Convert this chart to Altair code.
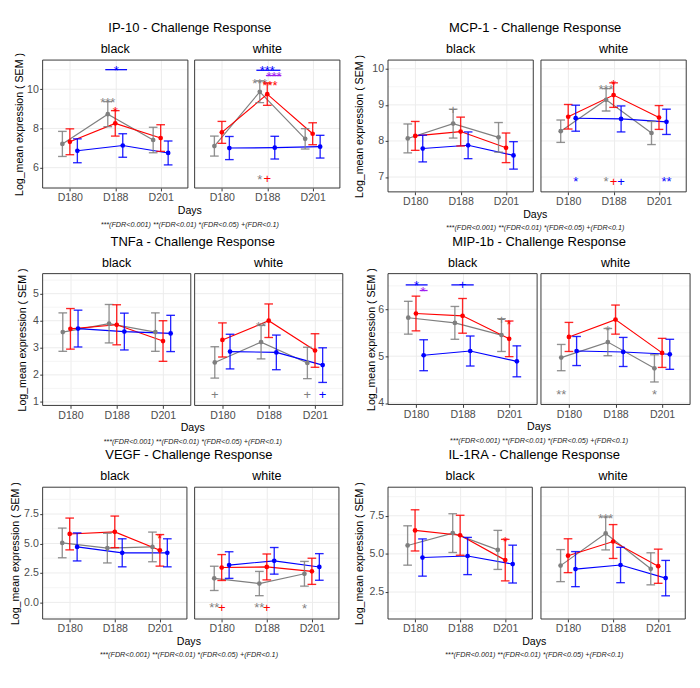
import altair as alt
import pandas as pd

# ---------------- data ----------------
DAYS = ["D180", "D188", "D201"]
FACETS = ["black", "white"]
GROUPS = ["gray", "red", "blue"]
TITLES = {
    "IP-10": "IP-10 - Challenge Response",
    "MCP-1": "MCP-1 - Challenge Response",
    "TNFa": "TNFa - Challenge Response",
    "MIP-1b": "MIP-1b - Challenge Response",
    "VEGF": "VEGF - Challenge Response",
    "IL-1RA": "IL-1RA - Challenge Response",
}
X_TITLE = "Days"
Y_TITLE = "Log_mean expression ( SEM )"
FOOTNOTE = "***(FDR<0.001) **(FDR<0.01) *(FDR<0.05) +(FDR<0.1)"

IP10_MEAN = {"black": {"gray": [7.21, 8.73, 7.41], "red": [7.32, 8.26, 7.51], "blue": [6.86, 7.13, 6.75]},
             "white": {"gray": [7.10, 9.87, 7.47], "red": [7.80, 9.75, 7.73], "blue": [7.00, 7.02, 7.07]}}
IP10_SEM = {"black": {"gray": [0.64, 0.64, 0.65], "red": [0.66, 0.65, 0.68], "blue": [0.61, 0.60, 0.61]},
            "white": {"gray": [0.51, 0.55, 0.52], "red": [0.56, 0.57, 0.56], "blue": [0.59, 0.58, 0.58]}}

MCP1_MEAN = {"black": {"gray": [8.07, 8.48, 8.10], "red": [8.14, 8.26, 7.81], "blue": [7.79, 7.88, 7.60]},
             "white": {"gray": [8.27, 9.14, 8.22], "red": [8.67, 9.27, 8.65], "blue": [8.63, 8.61, 8.53]}}
MCP1_SEM = {"black": {"gray": [0.40, 0.40, 0.41], "red": [0.40, 0.40, 0.41], "blue": [0.37, 0.37, 0.38]},
            "white": {"gray": [0.31, 0.31, 0.32], "red": [0.34, 0.34, 0.33], "blue": [0.36, 0.36, 0.35]}}

TNFA_MEAN = {"black": {"gray": [3.58, 3.89, 3.58], "red": [3.70, 3.85, 3.25], "blue": [3.71, 3.60, 3.53]},
             "white": {"gray": [2.46, 3.21, 2.44], "red": [3.29, 4.00, 2.90], "blue": [2.86, 2.83, 2.36]}}
TNFA_SEM = {"black": {"gray": [0.71, 0.71, 0.71], "red": [0.75, 0.74, 0.75], "blue": [0.68, 0.68, 0.67]},
            "white": {"gray": [0.58, 0.62, 0.58], "red": [0.63, 0.62, 0.62], "blue": [0.64, 0.64, 0.64]}}

MIP1B_MEAN = {"black": {"gray": [5.82, 5.71, 5.45], "red": [5.91, 5.86, 5.37], "blue": [5.02, 5.11, 4.89]},
              "white": {"gray": [4.97, 5.30, 4.74], "red": [5.41, 5.78, 5.07], "blue": [5.11, 5.09, 5.04]}}
MIP1B_SEM = {"black": {"gray": [0.35, 0.35, 0.35], "red": [0.37, 0.37, 0.38], "blue": [0.33, 0.32, 0.33]},
             "white": {"gray": [0.28, 0.29, 0.29], "red": [0.31, 0.31, 0.31], "blue": [0.31, 0.31, 0.32]}}

VEGF_MEAN = {"black": {"gray": [5.05, 4.61, 4.71], "red": [5.81, 5.99, 4.42], "blue": [4.71, 4.21, 4.21]},
             "white": {"gray": [2.04, 1.60, 2.43], "red": [2.96, 3.01, 2.64], "blue": [3.17, 3.53, 3.01]}}
VEGF_SEM = {"black": {"gray": [1.26, 1.26, 1.26], "red": [1.35, 1.34, 1.34], "blue": [1.19, 1.19, 1.19]},
            "white": {"gray": [1.03, 1.03, 1.05], "red": [1.10, 1.10, 1.11], "blue": [1.13, 1.13, 1.13]}}

IL1RA_MEAN = {"black": {"gray": [5.55, 6.36, 5.26], "red": [6.54, 6.22, 4.59], "blue": [4.76, 4.86, 4.33]},
              "white": {"gray": [4.23, 6.34, 4.02], "red": [4.88, 5.81, 4.19], "blue": [4.00, 4.27, 3.41]}}
IL1RA_SEM = {"black": {"gray": [1.29, 1.27, 1.28], "red": [1.35, 1.31, 1.36], "blue": [1.22, 1.22, 1.24]},
             "white": {"gray": [1.05, 1.08, 1.05], "red": [1.11, 1.11, 1.12], "blue": [1.15, 1.16, 1.16]}}

# significance marks: (facet, day, anchor series, nudge, y, text, colour)
IP10_SIG = [("black", "D188", "red", 0.02, 11.13, "*", "blue"),
            ("black", "D188", "gray", 0.0, 9.48, "***", "gray"),
            ("black", "D188", "red", 0.0, 9.01, "*", "red"),
            ("white", "D188", "red", 0.0, 11.10, "***", "blue"),
            ("white", "D188", "red", 0.15, 10.82, "***", "purple"),
            ("white", "D188", "gray", 0.0, 10.46, "***", "gray"),
            ("white", "D188", "red", 0.06, 10.37, "***", "red"),
            ("white", "D188", "gray", 0.0, 5.56, "*", "gray"),
            ("white", "D188", "red", 0.0, 5.45, "+", "red")]
IP10_BRACKETS = [("black", "D188", -0.22, 0.26, 11.0, "blue"),
                 ("white", "D188", -0.24, 0.29, 10.97, "blue"),
                 ("white", "D188", -0.03, 0.31, 10.70, "purple")]

MCP1_SIG = [("black", "D188", "gray", 0.0, 8.86, "+", "gray"),
            ("white", "D188", "red", 0.0, 9.66, "*", "red"),
            ("white", "D188", "gray", 0.0, 9.51, "***", "gray"),
            ("white", "D180", "blue", 0.0, 6.97, "*", "blue"),
            ("white", "D188", "gray", 0.0, 6.97, "*", "gray"),
            ("white", "D188", "red", 0.0, 6.89, "+", "red"),
            ("white", "D188", "blue", 0.0, 6.89, "+", "blue"),
            ("white", "D201", "blue", 0.0, 6.97, "**", "blue")]
MCP1_BRACKETS = []

TNFA_SIG = [("white", "D180", "gray", 0.0, 1.28, "+", "gray"),
            ("white", "D188", "gray", 0.0, 3.88, "**", "gray"),
            ("white", "D201", "gray", 0.0, 1.28, "+", "gray"),
            ("white", "D201", "blue", 0.0, 1.28, "+", "blue")]
TNFA_BRACKETS = []

MIP1B_SIG = [("black", "D180", "red", 0.01, 6.57, "*", "blue"),
             ("black", "D180", "red", 0.15, 6.45, "*", "purple"),
             ("black", "D188", "red", 0.0, 6.52, "+", "blue"),
             ("black", "D201", "gray", 0.0, 5.78, "+", "gray"),
             ("black", "D201", "red", 0.0, 5.74, "*", "red"),
             ("white", "D188", "gray", 0.0, 5.62, "*", "gray"),
             ("white", "D180", "gray", 0.0, 4.25, "**", "gray"),
             ("white", "D201", "gray", 0.0, 4.25, "*", "gray")]
MIP1B_BRACKETS = [("black", "D180", -0.22, 0.25, 6.52, "blue"),
                  ("black", "D180", 0.08, 0.25, 6.40, "purple"),
                  ("black", "D188", -0.24, 0.24, 6.52, "blue")]

VEGF_SIG = [("black", "D201", "red", 0.0, 5.71, "*", "red"),
            ("white", "D180", "gray", 0.0, -0.18, "**", "gray"),
            ("white", "D180", "red", 0.0, -0.45, "+", "red"),
            ("white", "D188", "gray", 0.0, -0.18, "**", "gray"),
            ("white", "D188", "red", 0.0, -0.45, "+", "red"),
            ("white", "D201", "gray", 0.0, -0.24, "*", "gray")]
VEGF_BRACKETS = []

IL1RA_SIG = [("black", "D201", "red", 0.0, 6.02, "*", "red"),
             ("white", "D188", "gray", 0.0, 7.50, "***", "gray")]
IL1RA_BRACKETS = []

# y-axis ticks per gene
IP10_TICKS, IP10_MINOR = [6, 8, 10], [5, 7, 9, 11]
MCP1_TICKS, MCP1_MINOR = [7, 8, 9, 10], [7.5, 8.5, 9.5]
TNFA_TICKS, TNFA_MINOR = [1, 2, 3, 4, 5], [1.5, 2.5, 3.5, 4.5, 5.5]
MIP1B_TICKS, MIP1B_MINOR = [4, 5, 6], [4.5, 5.5, 6.5]
VEGF_TICKS, VEGF_MINOR = [0.0, 2.5, 5.0, 7.5], [-1.25, 1.25, 3.75, 6.25, 8.75]
IL1RA_TICKS, IL1RA_MINOR = [2.5, 5.0, 7.5], [1.25, 3.75, 6.25, 8.75]

GENES = {
    "IP-10": dict(mean=IP10_MEAN, sem=IP10_SEM, sig=IP10_SIG, br=IP10_BRACKETS,
                  ticks=IP10_TICKS, minor=IP10_MINOR, domain=[4.96, 11.49], fmt="d"),
    "MCP-1": dict(mean=MCP1_MEAN, sem=MCP1_SEM, sig=MCP1_SIG, br=MCP1_BRACKETS,
                  ticks=MCP1_TICKS, minor=MCP1_MINOR, domain=[6.59, 10.24], fmt="d"),
    "TNFa": dict(mean=TNFA_MEAN, sem=TNFA_SEM, sig=TNFA_SIG, br=TNFA_BRACKETS,
                 ticks=TNFA_TICKS, minor=TNFA_MINOR, domain=[0.87, 5.74], fmt="d"),
    "MIP-1b": dict(mean=MIP1B_MEAN, sem=MIP1B_SEM, sig=MIP1B_SIG, br=MIP1B_BRACKETS,
                   ticks=MIP1B_TICKS, minor=MIP1B_MINOR, domain=[3.97, 6.76], fmt="d"),
    "VEGF": dict(mean=VEGF_MEAN, sem=VEGF_SEM, sig=VEGF_SIG, br=VEGF_BRACKETS,
                 ticks=VEGF_TICKS, minor=VEGF_MINOR, domain=[-1.41, 9.78], fmt=".1f"),
    "IL-1RA": dict(mean=IL1RA_MEAN, sem=IL1RA_SEM, sig=IL1RA_SIG, br=IL1RA_BRACKETS,
                   ticks=IL1RA_TICKS, minor=IL1RA_MINOR, domain=[0.73, 9.37], fmt=".1f"),
}

# ---------------- styling / layout ----------------
FONT = "Liberation Sans"
COLOR_KEYS = ["gray", "red", "blue", "purple"]
COLOR_VALUES = ["#7f7f7f", "#ff0000", "#0000ff", "#a020f0"]
DODGE = {"gray": -0.165, "red": 0.0, "blue": 0.165}
GAP = 4
LAYOUT = {
    "IP-10": dict(W=151, H=133, ytx=-23.5),
    "MCP-1": dict(W=151, H=137, ytx=-29),
    "TNFa": dict(W=154, H=137, ytx=-21),
    "MIP-1b": dict(W=155, H=136, ytx=-17),
    "VEGF": dict(W=150, H=137, ytx=-28),
    "IL-1RA": dict(W=150, H=137, ytx=-29),
}
ROWS = [("IP-10", "MCP-1", 3, 39), ("TNFa", "MIP-1b", 1, 27), ("VEGF", "IL-1RA", 12, 31)]

LABEL_EXPR = "[" + ",".join("'%s'" % d for d in DAYS) + "][datum.value - 1]"
cscale = alt.Scale(domain=COLOR_KEYS, range=COLOR_VALUES)


def series_df(g, facet):
    rows = []
    for grp in GROUPS:
        for i, d in enumerate(DAYS):
            m = g["mean"][facet][grp][i]
            s = g["sem"][facet][grp][i]
            rows.append(dict(grp=grp, day=d, x=i + 1 + DODGE[grp], mean=m, lo=m - s, hi=m + s))
    return pd.DataFrame(rows)


def text_layer(txt, px, py, size, style="normal", color="#000000"):
    return alt.Chart(pd.DataFrame({"t": [txt]})).mark_text(
        font=FONT, fontSize=size, fontStyle=style, color=color, align="center", baseline="middle"
    ).encode(text="t:N", x=alt.value(px), y=alt.value(py))


def panel(gene, facet):
    g = GENES[gene]
    L = LAYOUT[gene]
    W, H = L["W"], L["H"]
    left = facet == "black"
    xs = alt.Scale(domain=[0.4, 3.6], nice=False, zero=False)
    ys = alt.Scale(domain=g["domain"], nice=False, zero=False)
    xax = alt.Axis(values=[1, 2, 3], labelExpr=LABEL_EXPR, title=None, grid=True,
                   gridColor="#ebebeb", gridWidth=1, labelFlush=False, labelOverlap=False)
    if left:
        yax = alt.Axis(values=g["ticks"], format=g["fmt"], title=Y_TITLE, grid=False,
                       titleX=L["ytx"], titleY=H / 2, titleAngle=270, titleBaseline="middle",
                       titleAlign="center", labelOverlap=False)
    else:
        yax = None

    def X(f):
        return alt.X(f, type="quantitative", scale=xs, axis=xax)

    def Y(f):
        return alt.Y(f, type="quantitative", scale=ys, axis=yax)

    color = alt.Color("grp:N", scale=cscale, legend=None)
    d = series_df(g, facet)

    layers = []
    layers.append(alt.Chart(pd.DataFrame({"v": g["minor"]})).mark_rule(
        color="#f2f2f2", strokeWidth=0.8).encode(y=Y("v")))
    layers.append(alt.Chart(pd.DataFrame({"v": g["ticks"]})).mark_rule(
        color="#ebebeb", strokeWidth=1).encode(y=Y("v")))
    layers.append(alt.Chart(d).mark_line(strokeWidth=1.2).encode(x=X("x"), y=Y("mean"), color=color))
    layers.append(alt.Chart(d).mark_rule(strokeWidth=1.4, opacity=0.85).encode(
        x=X("x"), y=Y("lo"), y2="hi", color=color))
    layers.append(alt.Chart(d).mark_tick(orient="horizontal", size=9, thickness=1.4, opacity=0.85).encode(
        x=X("x"), y=Y("lo"), color=color))
    layers.append(alt.Chart(d).mark_tick(orient="horizontal", size=9, thickness=1.4, opacity=0.85).encode(
        x=X("x"), y=Y("hi"), color=color))
    layers.append(alt.Chart(d).mark_point(filled=True, size=24, opacity=1).encode(
        x=X("x"), y=Y("mean"), color=color))

    br = [b for b in g["br"] if b[0] == facet]
    if br:
        bdf = pd.DataFrame([dict(x0=DAYS.index(b[1]) + 1 + b[2], x1=DAYS.index(b[1]) + 1 + b[3],
                                 y=b[4], grp=b[5]) for b in br])
        layers.append(alt.Chart(bdf).mark_rule(strokeWidth=1.3).encode(
            x=X("x0"), x2=alt.X2("x1"), y=Y("y"), color=color))

    sig = [s for s in g["sig"] if s[0] == facet]
    if sig:
        sdf = pd.DataFrame([dict(x=DAYS.index(s[1]) + 1 + DODGE[s[2]] + s[3], y=s[4], text=s[5], grp=s[6])
                            for s in sig])
        plus = sdf[sdf["text"].str.contains("+", regex=False)]
        star = sdf[~sdf["text"].str.contains("+", regex=False)]
        if len(star):
            layers.append(alt.Chart(star).mark_text(font=FONT, fontSize=13.5, dy=3.8, baseline="middle").encode(
                x=X("x"), y=Y("y"), text="text:N", color=color))
        if len(plus):
            layers.append(alt.Chart(plus).mark_text(font=FONT, fontSize=13.5, dy=0.7, baseline="middle").encode(
                x=X("x"), y=Y("y"), text="text:N", color=color))

    # facet strip label
    layers.append(text_layer(facet, W / 2, -11, 13))
    if left:
        cx = (2 * W + GAP) / 2
        layers.append(text_layer(TITLES[gene], cx, -33, 13.5))
        layers.append(text_layer(X_TITLE, cx, H + 24, 11))
        layers.append(text_layer(FOOTNOTE, cx, H + 38, 7.5, style="italic", color="#222222"))

    layers.append(alt.Chart(pd.DataFrame({"v": [0]})).mark_rect(
        fillOpacity=0, stroke="#333333", strokeWidth=1).encode(
        x=alt.value(0), x2=alt.value(W), y=alt.value(0), y2=alt.value(H)))

    return alt.layer(*layers).properties(width=W, height=H)


def spacer(w):
    return alt.Chart(pd.DataFrame({"v": [0]})).mark_point(opacity=0).encode(
        x=alt.value(0), y=alt.value(0)).properties(width=w, height=1)


items = []
for gl, gr, s0, mid in ROWS:
    items += [spacer(s0), panel(gl, "black"), panel(gl, "white"),
              spacer(mid), panel(gr, "black"), panel(gr, "white")]

chart = alt.concat(
    *items, columns=6, spacing={"row": 85, "column": GAP}, bounds="flush", align="none",
    padding=1, background="white"
).configure_view(strokeWidth=0).configure_axis(
    labelFont=FONT, titleFont=FONT, labelFontSize=11, labelColor="#4d4d4d",
    tickColor="#333333", tickSize=3, tickWidth=1, domain=False, labelPadding=1.5,
    titleFontSize=11, titleFontWeight="normal", titleColor="#000000"
)

chart.save("out.html", embed_options={"renderer": "svg", "actions": False})
